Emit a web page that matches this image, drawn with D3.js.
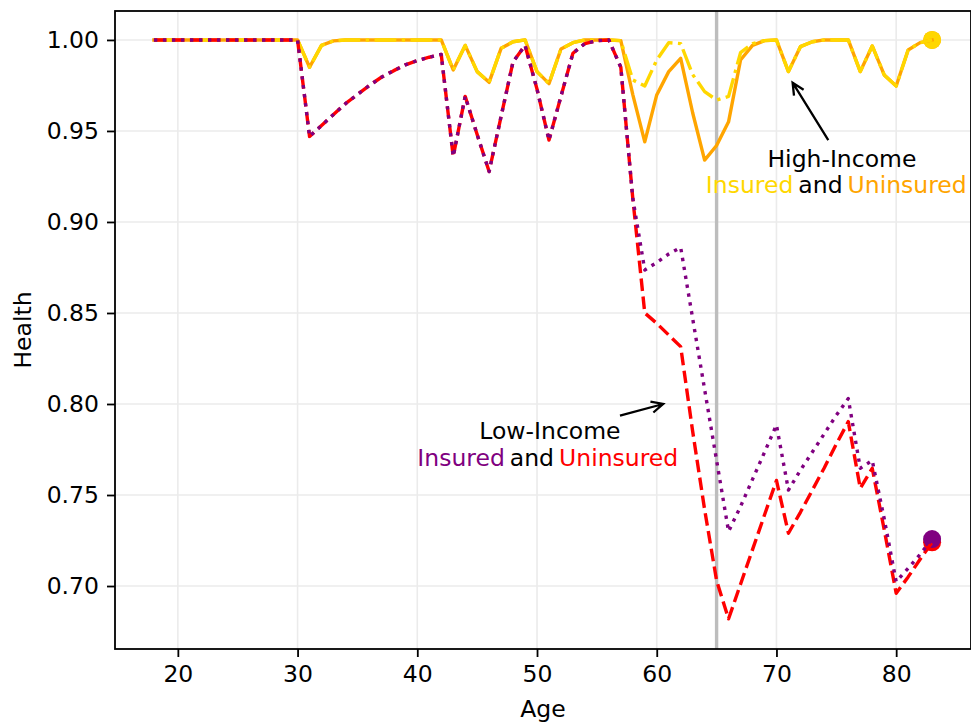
<!DOCTYPE html>
<html>
<head>
<meta charset="utf-8">
<script src="https://cdn.jsdelivr.net/npm/d3@7"></script>
<style>
  html, body { margin: 0; padding: 0; background: #fff; }
  svg { display: block; font-family: "DejaVu Sans", sans-serif; }
</style>
</head>
<body>
<svg id="chart" width="971" height="723"></svg>
<script>
// ---------------- data ----------------
const ages = [18,19,20,21,22,23,24,25,26,27,28,29,30,31,32,33,34,35,36,37,38,39,40,41,42,43,44,45,46,47,48,49,50,
  51,52,53,54,55,56,57,58,59,60,61,62,63,64,65,66,67,68,69,70,71,72,73,74,75,76,77,78,79,80,81,82,83];

const highUninsured = [1,1,1,1,1,1,1,1,1,1,1,1,1, 0.985,0.997,0.9995,1,1,1,1,1,1,1,1, 1,0.9835,0.997,0.9826,0.9767,0.9954,0.999,1,0.9826,
  0.976,0.995,0.9985,1,1,1,0.9996,0.970,0.944,0.9698,0.9826,0.9899,0.960,0.934,0.942,0.955,0.989,0.997,0.9996,1,0.9826,0.9963,0.999,1,1,1,0.9826,0.9967,0.9808,0.9747,0.9945,0.9985,1];

const highInsured = [1,1,1,1,1,1,1,1,1,1,1,1,1, 0.985,0.997,0.9995,1,1,1,1,1,1,1,1, 1,0.9835,0.997,0.9826,0.9767,0.9954,0.999,1,0.9826,
  0.976,0.995,0.9985,1,1,1,0.9996,0.978,0.9747,0.989,0.9985,0.998,0.981,0.9716,0.967,0.969,0.993,0.998,0.9996,1,0.9826,0.9963,0.999,1,1,1,0.9826,0.9967,0.9808,0.9747,0.9945,0.9985,1];

const lowUninsured = [1,1,1,1,1,1,1,1,1,1,1,1,1, 0.947,0.953,0.959,0.965,0.970,0.975,0.9795,0.983,0.9863,0.9887,0.9905, 0.992,0.936,0.969,0.948,0.9277,0.958,0.988,0.997,0.973,
  0.945,0.969,0.9927,0.998,0.9996,1,0.985,0.913,0.850,0.8443,0.8379,0.8315,0.785,0.742,0.703,0.682,0.701,0.720,0.739,0.758,0.729,0.7405,0.7527,0.765,0.778,0.7903,0.7537,0.7647,0.731,0.696,0.705,0.7147,0.724];

const lowInsured = [1,1,1,1,1,1,1,1,1,1,1,1,1, 0.947,0.953,0.959,0.965,0.970,0.975,0.9795,0.983,0.9863,0.9887,0.9905, 0.992,0.936,0.969,0.948,0.9277,0.958,0.988,0.997,0.973,
  0.945,0.969,0.9927,0.998,0.9996,1,0.985,0.913,0.8736,0.8777,0.8824,0.886,0.847,0.808,0.769,0.730,0.7437,0.7586,0.7734,0.7885,0.7527,0.7636,0.7736,0.7837,0.7938,0.803,0.7647,0.769,0.737,0.7024,0.7097,0.7174,0.7258];

const xTicks = [20, 30, 40, 50, 60, 70, 80];
const yTicks = [0.70, 0.75, 0.80, 0.85, 0.90, 0.95, 1.00];
const medicareAge = 65;

// ---------------- layout ----------------
const svg = d3.select("#chart");
const L = 115, R = 971, T = 11, B = 649;
const FS = 23.5;
const LW = 3.4;

const x = d3.scaleLinear().domain([14.75, 86.25]).range([L, R]);
const y = d3.scaleLinear().domain([0.6654, 1.0159]).range([B, T]);

// grid
const grid = svg.append("g");
grid.selectAll("line.gx").data(xTicks).join("line")
  .attr("x1", d => x(d)).attr("x2", d => x(d)).attr("y1", T).attr("y2", B)
  .attr("stroke", "#ebebeb").attr("stroke-width", 1.6);
grid.selectAll("line.gy").data(yTicks).join("line")
  .attr("y1", d => y(d)).attr("y2", d => y(d)).attr("x1", L).attr("x2", R)
  .attr("stroke", "#ebebeb").attr("stroke-width", 1.6);

const clip = svg.append("clipPath").attr("id", "plotclip")
  .append("rect").attr("x", L).attr("y", T).attr("width", R - L).attr("height", B - T);
const plot = svg.append("g").attr("clip-path", "url(#plotclip)");

const series = [
  { name: "High-Income Uninsured", values: highUninsured, color: "#FFA500", dash: null },
  { name: "High-Income Insured", values: highInsured, color: "#FFD700", dash: [6.4, 1.6, 1, 1.6] },
  { name: "Low-Income Uninsured", values: lowUninsured, color: "#FF0000", dash: [3.7, 1.6] },
  { name: "Low-Income Insured", values: lowInsured, color: "#800080", dash: [1, 1.65] }
];

// end markers (drawn beneath lines)
series.forEach(s => {
  const i = ages.length - 1;
  plot.append("circle")
    .attr("cx", x(ages[i])).attr("cy", y(s.values[i])).attr("r", 9)
    .attr("fill", s.color);
});

// vertical reference line
plot.append("line")
  .attr("x1", x(medicareAge)).attr("x2", x(medicareAge)).attr("y1", T).attr("y2", B)
  .attr("stroke", "#bdbdbd").attr("stroke-width", 3.4);

const line = d3.line().x((d, i) => x(ages[i])).y(d => y(d));
series.forEach(s => {
  const p = plot.append("path")
    .attr("d", line(s.values))
    .attr("fill", "none")
    .attr("stroke", s.color)
    .attr("stroke-width", LW)
    .attr("stroke-linejoin", "round");
  if (s.dash) {
    p.attr("stroke-dasharray", s.dash.map(v => v * LW).join(","))
     .attr("stroke-linecap", "butt");
  } else {
    p.attr("stroke-linecap", "square");
  }
});

// axes
const xAxis = d3.axisBottom(x).tickValues(xTicks).tickFormat(d3.format("d")).tickSize(8).tickPadding(8);
const yAxis = d3.axisLeft(y).tickValues(yTicks).tickFormat(d3.format(".2f")).tickSize(8).tickPadding(8);

const gx = svg.append("g").attr("transform", `translate(0,${B})`).call(xAxis);
const gy = svg.append("g").attr("transform", `translate(${L},0)`).call(yAxis);
[gx, gy].forEach(g => {
  g.select(".domain").remove();
  g.selectAll(".tick line").attr("stroke", "#000").attr("stroke-width", 1.8);
  g.selectAll(".tick text").attr("fill", "#000").style("font-size", FS + "px")
    .style("font-family", "DejaVu Sans");
});

// frame
svg.append("rect").attr("x", L).attr("y", T).attr("width", R - L).attr("height", B - T)
  .attr("fill", "none").attr("stroke", "#000").attr("stroke-width", 1.8);

// axis labels
svg.append("text").attr("x", (L + R) / 2).attr("y", 717).attr("text-anchor", "middle")
  .style("font-size", FS + "px").text("Age");
svg.append("text").attr("transform", `translate(31,${(T + B) / 2}) rotate(-90)`).attr("text-anchor", "middle")
  .style("font-size", FS + "px").text("Health");

// annotations
const annotations = [
  { title: "High-Income", titleAt: [75.47, 0.9302], rowAt: [75.0, 0.9159],
    parts: [["Insured", "#FFD700"], ["and", "#000"], ["Uninsured", "#FFA500"]],
    from: [74.33, 0.945], to: [71.35, 0.9765] },
  { title: "Low-Income", titleAt: [51.08, 0.7806], rowAt: [50.9, 0.766],
    parts: [["Insured", "#800080"], ["and", "#000"], ["Uninsured", "#FF0000"]],
    from: [56.93, 0.7936], to: [60.54, 0.8000] }
];

annotations.forEach(a => {
  svg.append("text").attr("x", x(a.titleAt[0])).attr("y", y(a.titleAt[1]))
    .attr("text-anchor", "middle").style("font-size", FS + "px").attr("fill", "#000").text(a.title);
  const t = svg.append("text").attr("x", x(a.rowAt[0])).attr("y", y(a.rowAt[1]))
    .attr("text-anchor", "middle").style("font-size", FS + "px");
  a.parts.forEach((p, i) => {
    t.append("tspan").attr("dx", i === 0 ? 0 : 5).attr("fill", p[1]).text(p[0]);
  });
  const x0 = x(a.from[0]), y0 = y(a.from[1]), x1 = x(a.to[0]), y1 = y(a.to[1]);
  const ang = Math.atan2(y1 - y0, x1 - x0);
  const hl = 13, hw = 0.45;
  const p1 = [x1 - hl * Math.cos(ang - hw), y1 - hl * Math.sin(ang - hw)];
  const p2 = [x1 - hl * Math.cos(ang + hw), y1 - hl * Math.sin(ang + hw)];
  svg.append("path")
    .attr("d", `M${x0},${y0}L${x1},${y1}M${p1[0]},${p1[1]}L${x1},${y1}L${p2[0]},${p2[1]}`)
    .attr("fill", "none").attr("stroke", "#000").attr("stroke-width", 2.3)
    .attr("stroke-linejoin", "miter");
});
</script>
</body>
</html>
